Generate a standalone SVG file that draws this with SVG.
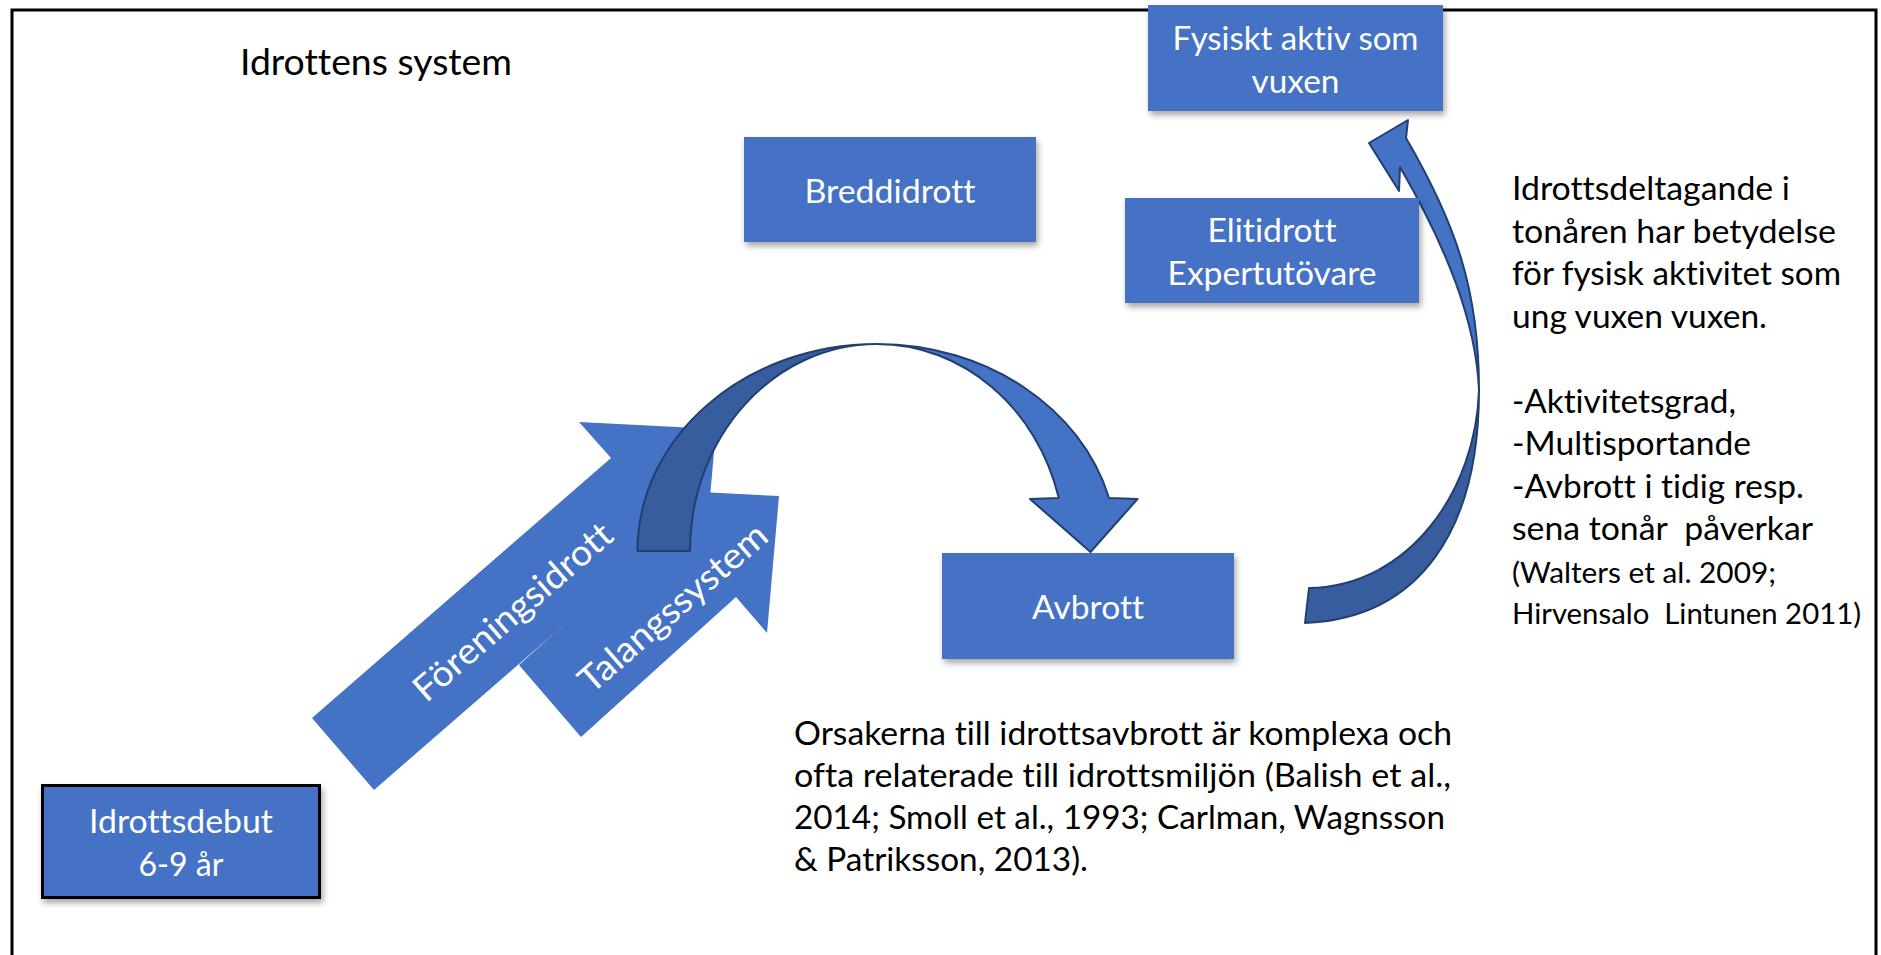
<svg xmlns="http://www.w3.org/2000/svg" width="1881" height="955" viewBox="0 0 1881 955">
<defs>
<filter id="sh" x="-10%" y="-10%" width="130%" height="140%">
<feDropShadow dx="2" dy="4" stdDeviation="3" flood-color="#000" flood-opacity="0.35"/>
</filter>
</defs>
<style>
text{font-variant-ligatures:none}
.box{fill:#4472C4;filter:url(#sh)}
.bt{font-family:Lato,"Open Sans",sans-serif;font-size:33px;fill:#fff;text-anchor:middle}
.tx{font-family:Lato,"Open Sans",sans-serif;font-size:33px;fill:#000}
.sm{font-size:29px}
.big{font-size:36px}
.blk{fill:#4472C4}
.lite{fill:#4472C4;stroke:#22406F;stroke-width:2;stroke-linejoin:round}
.dark{fill:#375D9E;stroke:#22406F;stroke-width:2;stroke-linejoin:round}
</style>
<rect x="0" y="0" width="1881" height="955" fill="#fff"/>
<rect id="frame" x="12" y="10" width="1864" height="1000" fill="none" stroke="#000" stroke-width="3"/>
<text id="title" class="tx big" x="240" y="75" textLength="272" lengthAdjust="spacingAndGlyphs">Idrottens system</text>

<g id="connectors">
<g id="arrow-forening">
<polygon class="blk" points="312,718 611,458 579,422 716,429 704,566 673,530 374,790"/>
<text class="bt big" transform="translate(513,612) rotate(-41)" y="12" textLength="251" lengthAdjust="spacingAndGlyphs">Föreningsidrott</text>
</g>
<g id="arrow-talang">
<polygon class="blk" points="519,665 674,525 642,489 779,496 767,633 736,597 581,737"/>
<text class="bt big" transform="translate(673,608) rotate(-41)" y="12" textLength="237" lengthAdjust="spacingAndGlyphs">Talangssystem</text>
</g>
<g id="curve-to-avbrott">
<path class="dark" d="M637.5,551 C637.5,436.7 744.7,344 877,344 C773.7,344 690,436.7 690,551 Z"/>
<path class="lite" d="M877,344 C985.9,344 1081.2,407.3 1109,498 L1137.5,499 L1090.5,552 L1030,499 L1058.8,498 C1037,407.3 962.3,344 877,344 Z"/>
</g>
<g id="curve-to-vuxen">
<path class="dark" d="M1479,390 C1479,530 1420,618 1305,623 L1309,588 C1410,586 1476,490 1479,390 Z"/>
<path class="lite" d="M1369,143 L1408,120 L1406,138 C1456,224 1479,290 1479,390 C1476,320 1445,245 1400,167 L1399,191 Z"/>
</g>
</g>

<g id="node-fysiskt">
<rect class="box" x="1148" y="5" width="295" height="106"/>
<text class="bt" x="1295.5" y="50" textLength="246" lengthAdjust="spacingAndGlyphs">Fysiskt aktiv som</text>
<text class="bt" x="1295.5" y="93" textLength="88" lengthAdjust="spacingAndGlyphs">vuxen</text>
</g>
<g id="node-bredd">
<rect class="box" x="744" y="137" width="292" height="105"/>
<text class="bt" x="890" y="203" textLength="171" lengthAdjust="spacingAndGlyphs">Breddidrott</text>
</g>
<g id="node-elit">
<rect class="box" x="1125" y="198" width="294" height="105"/>
<text class="bt" x="1272" y="242" textLength="129" lengthAdjust="spacingAndGlyphs">Elitidrott</text>
<text class="bt" x="1272" y="285" textLength="209" lengthAdjust="spacingAndGlyphs">Expertutövare</text>
</g>
<g id="node-avbrott">
<rect class="box" x="942" y="553" width="292" height="106"/>
<text class="bt" x="1088" y="619" textLength="112" lengthAdjust="spacingAndGlyphs">Avbrott</text>
</g>
<g id="node-debut">
<rect class="box" x="42.5" y="785.5" width="277" height="112" stroke="#000" stroke-width="3"/>
<text class="bt" x="181" y="833" textLength="184" lengthAdjust="spacingAndGlyphs">Idrottsdebut</text>
<text class="bt" x="181" y="876" textLength="85" lengthAdjust="spacingAndGlyphs">6-9 år</text>
</g>

<g id="text-right">
<text class="tx" x="1512" y="200" textLength="278" lengthAdjust="spacingAndGlyphs">Idrottsdeltagande i</text>
<text class="tx" x="1512" y="242.5" textLength="324" lengthAdjust="spacingAndGlyphs">tonåren har betydelse</text>
<text class="tx" x="1512" y="285" textLength="329" lengthAdjust="spacingAndGlyphs">för fysisk aktivitet som</text>
<text class="tx" x="1512" y="327.5" textLength="255" lengthAdjust="spacingAndGlyphs">ung vuxen vuxen.</text>
<text class="tx" x="1512" y="412.5" textLength="224" lengthAdjust="spacingAndGlyphs">-Aktivitetsgrad,</text>
<text class="tx" x="1512" y="455" textLength="239" lengthAdjust="spacingAndGlyphs">-Multisportande</text>
<text class="tx" x="1512" y="497.5" textLength="292" lengthAdjust="spacingAndGlyphs">-Avbrott i tidig resp.</text>
<text class="tx" x="1512" y="540" textLength="301" lengthAdjust="spacingAndGlyphs" xml:space="preserve">sena tonår  påverkar</text>
<text class="tx sm" x="1512" y="582.5" textLength="264" lengthAdjust="spacingAndGlyphs">(Walters et al. 2009;</text>
<text class="tx sm" x="1512" y="624" textLength="349" lengthAdjust="spacingAndGlyphs" xml:space="preserve">Hirvensalo  Lintunen 2011)</text>
</g>

<g id="text-bottom">
<text class="tx" x="794" y="745" textLength="658" lengthAdjust="spacingAndGlyphs">Orsakerna till idrottsavbrott är komplexa och</text>
<text class="tx" x="794" y="787" textLength="657" lengthAdjust="spacingAndGlyphs">ofta relaterade till idrottsmiljön (Balish et al.,</text>
<text class="tx" x="794" y="829" textLength="651" lengthAdjust="spacingAndGlyphs">2014; Smoll et al., 1993; Carlman, Wagnsson</text>
<text class="tx" x="794" y="871" textLength="294" lengthAdjust="spacingAndGlyphs">&amp; Patriksson, 2013).</text>
</g>
</svg>
